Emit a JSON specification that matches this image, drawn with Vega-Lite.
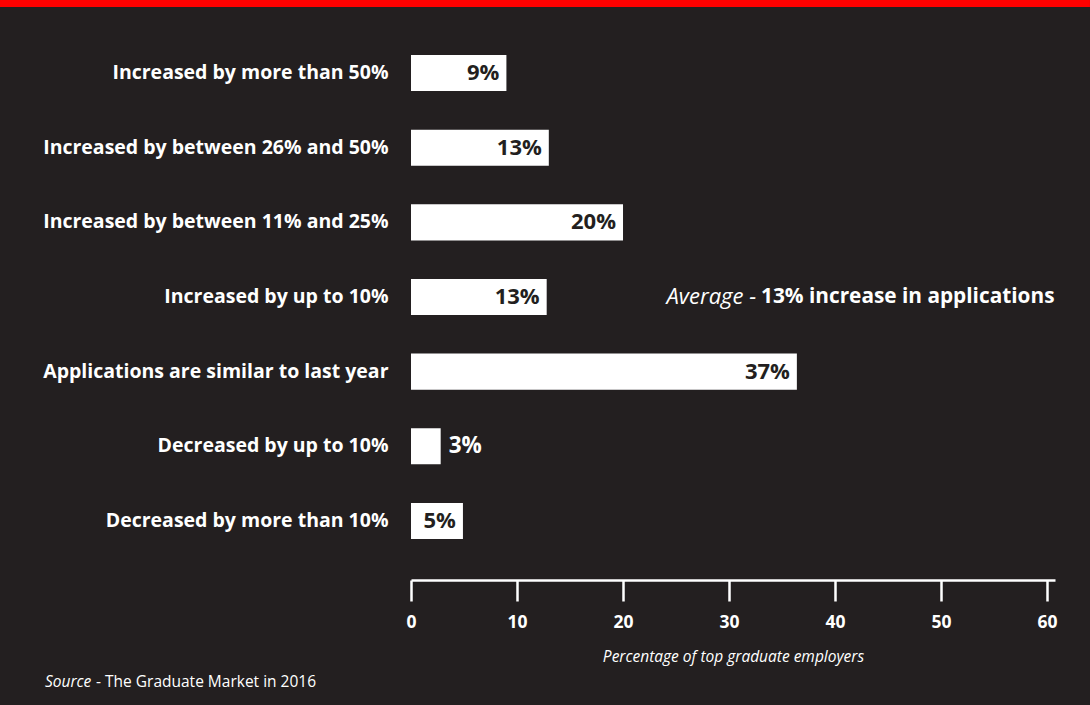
{
  "$schema": "https://vega.github.io/schema/vega-lite/v6.json",
  "background": "#231f20",
  "padding": {"left": 0, "top": 0, "right": 0, "bottom": 14},
  "autosize": {"type": "pad"},
  "spacing": 29,
  "config": {"font": "Open Sans", "view": {"stroke": null}},
  "title": {"text": "- The Graduate Market in 2016", "orient": "bottom", "anchor": "start", "frame": "bounds", "dx": 96, "dy": -15.5, "offset": 0, "fontSize": 15.5, "fontWeight": "normal", "color": "#ffffff"},
  "vconcat": [
    {
      "width": 644,
      "height": 7,
      "data": {"values": [{"band": "header"}]},
      "mark": {"type": "rect", "color": "#ff0000", "clip": false},
      "encoding": {
        "x": {"datum": -38.77, "type": "quantitative", "scale": {"domain": [0, 60.75], "nice": false}, "axis": null},
        "x2": {"datum": 64.05}
      }
    },
    {
      "width": 644,
      "height": 522,
      "title": {"text": "Source", "orient": "bottom", "anchor": "start", "frame": "bounds", "dx": 45, "offset": 10, "fontSize": 15.5, "fontStyle": "italic", "fontWeight": "normal", "color": "#ffffff"},
      "data": {"values": [
        {"response": "Increased by more than 50%", "share": 9, "label": "9%"},
        {"response": "Increased by between 26% and 50%", "share": 13, "label": "13%"},
        {"response": "Increased by between 11% and 25%", "share": 20, "label": "20%"},
        {"response": "Increased by up to 10%", "share": 12.8, "label": "13%"},
        {"response": "Applications are similar to last year", "share": 36.4, "label": "37%"},
        {"response": "Decreased by up to 10%", "share": 2.8, "label": "3%"},
        {"response": "Decreased by more than 10%", "share": 4.9, "label": "5%"}
      ]},
      "layer": [
        {
          "mark": {"type": "bar", "color": "#ffffff"},
          "encoding": {
            "y": {"field": "response", "type": "nominal", "sort": null,
              "scale": {"paddingInner": 0.517, "paddingOuter": 0.255},
              "axis": {"title": " ", "titleFontSize": 1, "titlePadding": 0, "minExtent": 410, "maxExtent": 410,
                "labelFontSize": 19.5, "labelFontWeight": "bold", "labelColor": "#ffffff", "labelPadding": 23,
                "ticks": false, "domain": false, "labelLimit": 0, "grid": false}},
            "x": {"field": "share", "type": "quantitative",
              "scale": {"domain": [0, 60.75], "nice": false},
              "axis": {"values": [0, 10, 20, 30, 40, 50, 60], "offset": 22, "grid": false,
                "domainColor": "#ffffff", "domainWidth": 2.5, "tickColor": "#ffffff", "tickWidth": 2.5, "tickSize": 21,
                "labelFontSize": 17.5, "labelFontWeight": "bold", "labelColor": "#ffffff", "labelPadding": 12, "labelFlush": false,
                "title": "Percentage of top graduate employers", "titleFontSize": 15.5, "titleFontStyle": "italic",
                "titleFontWeight": "normal", "titleColor": "#ffffff", "titlePadding": 19}}
          }
        },
        {
          "transform": [{"filter": "datum.share >= 4"}],
          "mark": {"type": "text", "align": "right", "dx": -7, "fontSize": 22, "fontWeight": "bold", "color": "#231f20"},
          "encoding": {
            "y": {"field": "response", "type": "nominal", "sort": null},
            "x": {"field": "share", "type": "quantitative"},
            "text": {"field": "label"}
          }
        },
        {
          "transform": [{"filter": "datum.share < 4"}],
          "mark": {"type": "text", "align": "left", "dx": 8, "fontSize": 22.5, "fontWeight": "bold", "color": "#ffffff"},
          "encoding": {
            "y": {"field": "response", "type": "nominal", "sort": null},
            "x": {"field": "share", "type": "quantitative"},
            "text": {"field": "label"}
          }
        },
        {
          "data": {"values": [{"prefix": "Average -", "note": "13% increase in applications"}]},
          "layer": [
            {
              "mark": {"type": "text", "align": "right", "fontSize": 20.8, "fontWeight": "bold", "color": "#ffffff"},
              "encoding": {
                "y": {"datum": "Increased by up to 10%", "type": "nominal"},
                "x": {"datum": 60.7, "type": "quantitative"},
                "text": {"field": "note"}
              }
            },
            {
              "mark": {"type": "text", "align": "right", "fontSize": 22, "fontStyle": "italic", "fontWeight": "normal", "color": "#ffffff"},
              "encoding": {
                "y": {"datum": "Increased by up to 10%", "type": "nominal"},
                "x": {"datum": 32.55, "type": "quantitative"},
                "text": {"field": "prefix"}
              }
            }
          ]
        }
      ]
    }
  ]
}
